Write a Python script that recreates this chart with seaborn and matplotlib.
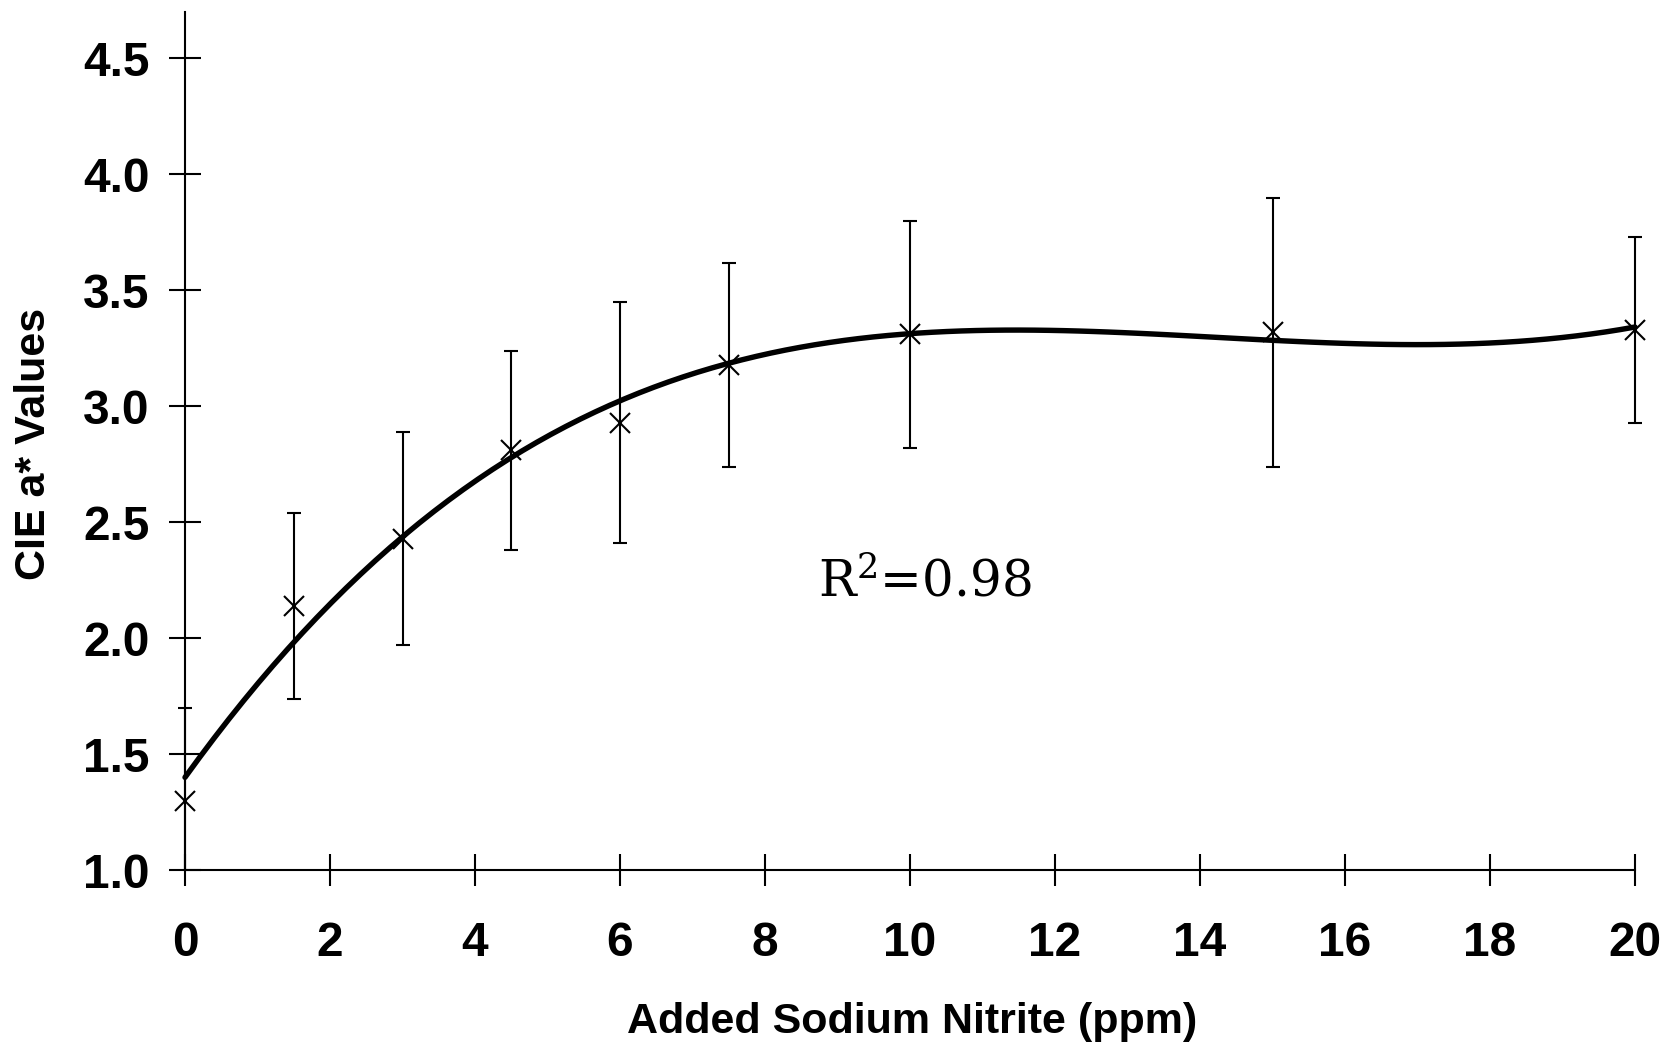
import matplotlib
matplotlib.use("Agg")
import matplotlib.pyplot as plt
import pandas as pd
import seaborn as sns

# values
nitrite_ppm = [0, 1.5, 3, 4.5, 6, 7.5, 10, 15, 20]
a_star_mean = [1.30, 2.14, 2.43, 2.81, 2.93, 3.18, 3.31, 3.32, 3.33]
a_star_sd = [0.40, 0.40, 0.46, 0.43, 0.52, 0.44, 0.49, 0.58, 0.40]
x_ticks = [0, 2, 4, 6, 8, 10, 12, 14, 16, 18, 20]
y_ticks = [1.0, 1.5, 2.0, 2.5, 3.0, 3.5, 4.0, 4.5]

df = pd.DataFrame({"ppm": nitrite_ppm, "a_star": a_star_mean, "sd": a_star_sd})

sns.set_style("ticks")
plt.rcParams["font.family"] = ["Liberation Sans", "DejaVu Sans"]
plt.rcParams["text.color"] = "black"
plt.rcParams["mathtext.fontset"] = "custom"
plt.rcParams["mathtext.rm"] = "DejaVu Serif"
plt.rcParams["mathtext.it"] = "DejaVu Serif:italic"
plt.rcParams["mathtext.bf"] = "DejaVu Serif:bold"

fig = plt.figure(figsize=(16.69, 10.47), dpi=100)
ax = fig.add_axes([185 / 1669 - 0.4 * 72.5 / 1669, 1 - 870.3 / 1047,
                   20.8 * 72.5 / 1669, (870.3 - 12) / 1047])

# third-order trendline fitted to the means
sns.regplot(data=df, x="ppm", y="a_star", order=3, ci=None, scatter=False,
            truncate=True, color="black", line_kws={"lw": 3.9, "zorder": 4}, ax=ax)

ax.errorbar(df["ppm"], df["a_star"], yerr=df["sd"], fmt="x", color="black",
            ms=15, mew=1.5, elinewidth=1.5, capsize=5, capthick=1.5, zorder=3)

ax.set_xlim(-0.4, 20.4)
ax.set_ylim(1.0, 4.7)
ax.spines["left"].set_position(("data", 0))
ax.spines["bottom"].set_bounds(0, 20)
ax.spines["top"].set_visible(False)
ax.spines["right"].set_visible(False)
for s in ("left", "bottom"):
    ax.spines[s].set_linewidth(1.5)
    ax.spines[s].set_color("black")

ax.set_xticks(x_ticks)
ax.set_yticks(y_ticks)
ax.set_yticklabels([f"{v:.1f}" for v in y_ticks])
ax.tick_params(direction="inout", length=23, width=1.5, color="black",
               labelsize=34.5, labelcolor="black")
ax.tick_params(axis="x", pad=25)
ax.tick_params(axis="y", pad=14)
for lbl in ax.get_xticklabels() + ax.get_yticklabels():
    lbl.set_fontweight("bold")
ax.set_xlabel("")
ax.set_ylabel("")

fig.text(912 / 1669, 1 - 1022 / 1047, "Added Sodium Nitrite (ppm)", fontsize=31,
         fontweight="bold", ha="center", va="center", color="black")
fig.text(34 / 1669, 1 - 444 / 1047, "CIE a* Values", fontsize=31, fontweight="bold",
         rotation=90, ha="center", va="center", color="black")

ax.text(10.2, 2.24, r"R$^{2}$=0.98", family="DejaVu Serif", fontweight="normal",
        fontsize=36, ha="center", va="center", color="black")

fig.savefig("out.png", dpi=100)
plt.close(fig)
